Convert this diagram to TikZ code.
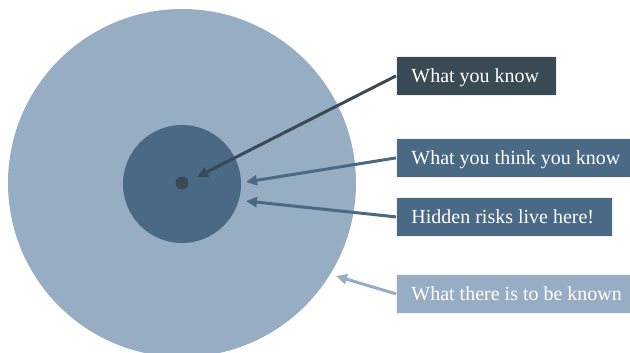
\documentclass[tikz,border=0pt]{standalone}
\usepackage{fontspec}
\setmainfont{Liberation Serif}
\usetikzlibrary{arrows.meta}
\definecolor{outerblue}{HTML}{97ADC4}
\definecolor{midblue}{HTML}{4A6984}
\definecolor{darkslate}{HTML}{3A4A54}
\newcommand{\boxtext}[2]{\makebox[#1][l]{#2}}
\begin{document}
\begin{tikzpicture}[x=1pt,y=-1pt,
  label box/.style={anchor=north west, minimum height=39pt, inner xsep=15pt,
    text height=13.5pt, text depth=0pt,
    text=white, font=\fontsize{20}{22}\selectfont,
    draw=white!88!gray, line width=0.8pt},
  pointer/.style={line width=3pt, -{Triangle[length=11pt,width=10pt]}}]
\useasboundingbox (0,0) rectangle (630,353);
\clip (0,0) rectangle (630,353);
% nested circles
\fill[outerblue] (182,183) circle (174);
\fill[midblue] (182,184) circle (59);
\fill[darkslate] (182,183) circle (6.5);
% label boxes
\node[label box, fill=darkslate] (know) at (396,56) {\boxtext{130pt}{What you know}};
\node[label box, fill=midblue] (think) at (396,138) {\boxtext{230pt}{What you think you know}};
\node[label box, fill=midblue] (risk) at (396,197) {\boxtext{186pt}{Hidden risks live here!}};
\node[label box, fill=outerblue] (all) at (396,274) {\boxtext{230pt}{What there is to be known}};
% arrow targets
\coordinate (tknow) at (197,177);
\coordinate (tthink) at (246,182);
\coordinate (trisk) at (246,201);
\coordinate (tall) at (336,276);
% pointers
\draw[pointer, darkslate] (know.west) -- (tknow);
\draw[pointer, midblue] (think.west) -- (tthink);
\draw[pointer, midblue] (risk.west) -- (trisk);
\draw[pointer, outerblue] (all.west) -- (tall);
\end{tikzpicture}
\end{document}
